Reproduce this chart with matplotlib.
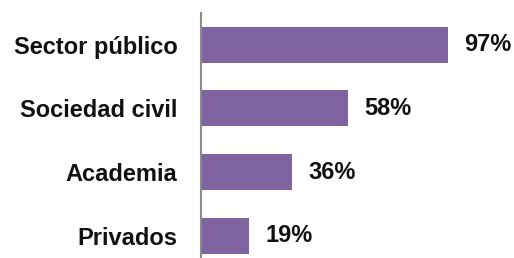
import matplotlib.pyplot as plt

categories = ['Sector público', 'Sociedad civil', 'Academia', 'Privados']
values = [97, 58, 36, 19]
labels = ['97%', '58%', '36%', '19%']

plt.rcParams['font.family'] = ['Liberation Sans', 'DejaVu Sans']

fig = plt.figure(figsize=(5.14, 2.58), dpi=100)
ax = fig.add_axes([200.5 / 514, 0, 255 / 514, 245 / 258])

pos = list(range(len(categories)))
ax.barh(pos, values, height=0.565, color='#8064A2')
ax.set_xlim(0, 100)
ax.set_ylim(3.35, -0.5)

for p, v, t in zip(pos, values, labels):
    ax.text(v + 6.3, p, t, ha='left', va='center', fontsize=17,
            fontweight='bold', color='#111111', clip_on=False)

ax.set_yticks(pos)
ax.set_yticklabels(categories, fontsize=17, fontweight='bold', color='#111111')
ax.tick_params(axis='y', length=0, pad=16.5)
ax.set_xticks([])

for s in ['top', 'right', 'bottom']:
    ax.spines[s].set_visible(False)
ax.spines['left'].set_color('#8c8c8c')
ax.spines['left'].set_linewidth(1.5)

fig.savefig('out.png', dpi=100)
